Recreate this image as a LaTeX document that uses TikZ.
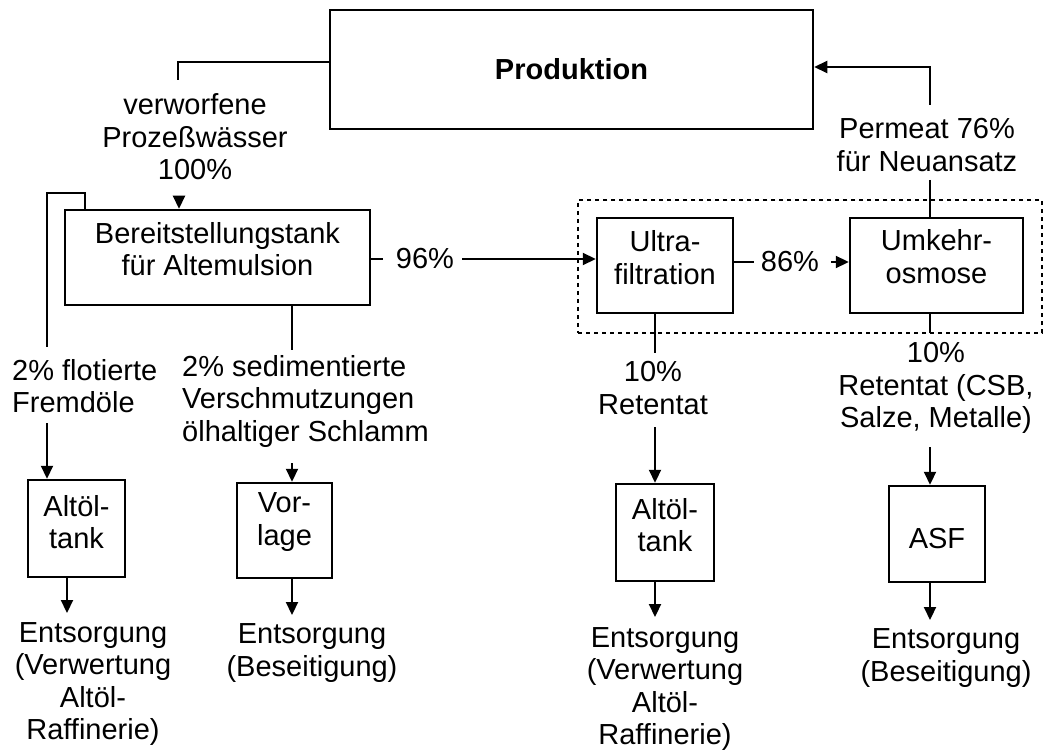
\documentclass[tikz,border=0pt]{standalone}
\usepackage{fontspec}
\setmainfont{Liberation Sans}
\usetikzlibrary{arrows.meta}
\begin{document}
\begin{tikzpicture}[x=1pt,y=-1pt,
  font=\fontsize{29}{32.5}\selectfont,
  box/.style={draw, line width=2.5pt, align=center, inner sep=0pt},
  lbl/.style={align=center, inner sep=0pt},
  lbll/.style={align=left, inner sep=0pt},
  ln/.style={line width=2.2pt},
  arr/.style={line width=2.2pt, -{Triangle[length=13pt,width=12pt]}},
  grpbox/.style={draw, line width=1.6pt, dash pattern=on 4pt off 4pt, inner sep=0pt}]
\useasboundingbox (0,0) rectangle (1044,754);

% boxes
\node[box, minimum width=483pt, minimum height=119pt] (prod) at (571.5,69.5) {\textbf{Produktion}};
\node[box, minimum width=305pt, minimum height=95pt,
  label={[lbl,yshift=8.5pt]center:Bereitstellungstank\\für Altemulsion}] (bereit) at (217.5,257.5) {};
\node[box, minimum width=136pt, minimum height=95pt,
  label={[lbl,yshift=8pt]center:Ultra-\\filtration}] (ultra) at (665,265.5) {};
\node[box, minimum width=173pt, minimum height=95pt,
  label={[lbl,yshift=9pt]center:Umkehr-\\osmose}] (umk) at (936.5,265.5) {};
\node[box, minimum width=97pt, minimum height=97pt,
  label={[lbl,yshift=6.5pt]center:Altöl-\\tank}] (alt1) at (76.5,528.5) {};
\node[box, minimum width=95pt, minimum height=95pt,
  label={[lbl,yshift=8.5pt]center:Vor-\\lage}] (vorl) at (284.5,530.5) {};
\node[box, minimum width=98pt, minimum height=97pt,
  label={[lbl,yshift=7.5pt]center:Altöl-\\tank}] (alt2) at (665,532.5) {};
\node[box, minimum width=96pt, minimum height=96pt,
  label={[lbl,yshift=-5pt]center:ASF}] (asf) at (937,534) {};
\node[grpbox, minimum width=464pt, minimum height=133pt] (grp) at (810,266.5) {};

% labels
\node[lbl] (verw) at (195,137) {verworfene\\Prozeßwässer\\100\%};
\node[lbll, anchor=west] (flot) at (12,386) {2\% flotierte\\Fremdöle};
\node[lbll, anchor=west] (sed) at (182,401) {2\% sedimentierte\\Verschmutzungen\\ölhaltiger Schlamm};
\node[lbl] (n96) at (425,259) {96\%};
\node[lbl] (n86) at (790,262) {86\%};
\node[lbl] (perm) at (927,145) {Permeat 76\%\\für Neuansatz};
\node[lbl] (ret1) at (653,388) {10\%\\Retentat};
\node[lbl] (ret2) at (936,388) {10\%\\Retentat (CSB,\\Salze, Metalle)};
\node[lbl] (ent1) at (93,684) {Entsorgung\\(Verwertung\\Altöl-\\Raffinerie)};
\node[lbl] (ent2) at (312,653) {Entsorgung\\(Beseitigung)};
\node[lbl] (ent3) at (665,689) {Entsorgung\\(Verwertung\\Altöl-\\Raffinerie)};
\node[lbl] (ent4) at (946,658) {Entsorgung\\(Beseitigung)};

% coordinates
\coordinate (c1) at (178,80);
\coordinate (c2) at (179,196);
\coordinate (c3) at (47,347);
\coordinate (c4) at (47,423);
\coordinate (c5) at (292,350);
\coordinate (c6) at (292,463);
\coordinate (c7) at (67,613);
\coordinate (c8) at (292,615);
\coordinate (c11) at (655,353);
\coordinate (c12) at (655,427);
\coordinate (c13) at (655,617);
\coordinate (c14) at (930,333);
\coordinate (c15) at (930,447);
\coordinate (c16) at (930,620);
\coordinate (c17) at (930,180);
\coordinate (c18) at (930,105);

% connectors
\draw[ln] ([yshift=7.5pt]prod.west) -| (c1);
\draw[arr] (c2) -- (c2 |- bereit.north);
\draw[ln] ([xshift=-132.5pt]bereit.north) -- ++(0,-16) -| (c3);
\draw[arr] (c4) -- (c4 |- alt1.north);
\draw[ln] (c5 |- bereit.south) -- (c5);
\draw[arr] (c6) -- (c6 |- vorl.north);
\draw[arr] (c7 |- alt1.south) -- (c7);
\draw[arr] (c8 |- vorl.south) -- (c8);
\draw[ln] (bereit.east |- n96) -- ++(12,0);
\draw[arr] ([xshift=8pt]n96.east) -- (ultra.west |- n96);
\draw[ln] (ultra.east |- n86) -- ++(20,0);
\draw[arr] ([xshift=12pt]n86.east) -- (umk.west |- n86);
\draw[ln] (c11 |- ultra.south) -- (c11);
\draw[arr] (c12) -- (c12 |- alt2.north);
\draw[arr] (c13 |- alt2.south) -- (c13);
\draw[ln] (c14 |- umk.south) -- (c14);
\draw[arr] (c15) -- (c15 |- asf.north);
\draw[arr] (c16 |- asf.south) -- (c16);
\draw[ln] (c17) -- (c17 |- umk.north);
\draw[arr] (c18) |- ([yshift=2.5pt]prod.east);
\end{tikzpicture}
\end{document}
